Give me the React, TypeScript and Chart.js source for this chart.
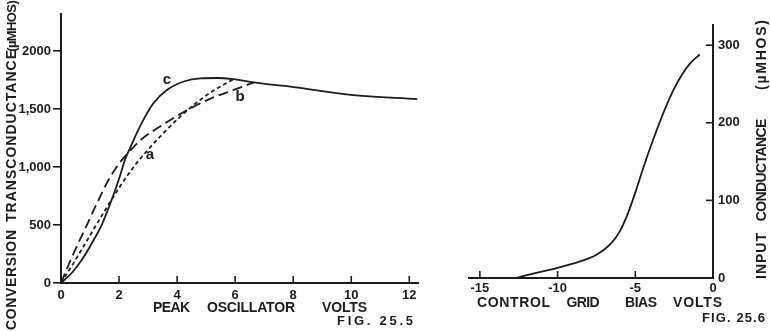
import React, { useEffect, useRef } from 'react';
import { Chart, registerables } from 'chart.js';

Chart.register(...registerables);

// ---------- Fig. 25.5 : conversion transconductance vs peak oscillator volts ----------
const leftXTicks = [0, 2, 4, 6, 8, 10, 12];
const leftXTickLabels = ['0', '2', '4', '6', '8', '10', '12'];
const leftYTicks = [0, 500, 1000, 1500, 2000];
const leftYTickLabels = ['0', '500', '1,000', '1,500', '2000'];

// curve c (solid)
const curveCX = [0, 0.4, 0.77, 1.1, 1.4, 1.75, 2.04, 2.2, 2.39, 2.73, 3.19, 3.66, 4.23, 4.8, 5.38, 5.95, 6.64, 8.02, 9.98, 12.28];
const curveCY = [0, 95, 220, 360, 500, 720, 930, 1060, 1170, 1355, 1552, 1666, 1738, 1765, 1768, 1758, 1730, 1690, 1623, 1586];

// curve b (long dashes)
const curveBX = [0, 0.37, 0.89, 1.3, 1.64, 2.0, 2.4, 2.73, 3.54, 4.34, 5.15, 5.95, 6.64];
const curveBY = [0, 220, 500, 720, 890, 1030, 1145, 1230, 1370, 1490, 1590, 1665, 1730];

// curve a (short dashes)
const curveAX = [0, 0.5, 1.0, 1.5, 2.0, 2.5, 3.0, 3.5, 4.11, 4.8, 5.49, 5.94];
const curveAY = [0, 200, 410, 620, 820, 1000, 1150, 1285, 1435, 1580, 1695, 1755];

// ---------- Fig. 25.6 : input conductance vs control grid bias ----------
const rightXTicks = [-15, -10, -5, 0];
const rightXTickLabels = ['-15', '-10', '-5', '0'];
const rightYTicks = [0, 100, 200, 300];
const rightYTickLabels = ['0', '100', '200', '300'];

const biasX = [-12.7, -11.5, -10, -8.6, -7.5, -6.5, -6, -5.5, -5, -4.5, -4, -3.5, -3, -2.5, -2, -1.5, -0.85];
const conductanceY = [0, 6, 13, 21, 30, 46, 60, 82, 110, 141, 170, 197, 222, 244, 262, 276, 288];

const FONT = '"Liberation Sans", Arial, sans-serif';
const INK = '#1c1c1c';

type TextItem = { text: string; x: number; y: number; w?: number; rot?: boolean; size?: number };

const leftTexts: TextItem[] = [
  { text: '(µMHOS)', x: 12, y: 26, w: 40, rot: true, size: 13 },
  { text: 'TRANSCONDUCTANCE', x: 12, y: 136, w: 172, rot: true, size: 14 },
  { text: 'CONVERSION', x: 12, y: 280, w: 100, rot: true, size: 14 },
  { text: 'PEAK', x: 171.5, y: 308, w: 37, size: 14 },
  { text: 'OSCILLATOR', x: 251, y: 308, w: 88, size: 14 },
  { text: 'VOLTS', x: 344.5, y: 308, w: 45, size: 14 },
  { text: 'FIG. 25.5', x: 375, y: 321, w: 76, size: 13 },
  { text: 'c', x: 167, y: 80, size: 15 },
  { text: 'b', x: 240, y: 97, size: 15 },
  { text: 'a', x: 150, y: 155, size: 15 },
];

const rightTexts: TextItem[] = [
  { text: 'CONTROL', x: 513.5, y: 303, w: 73, size: 14 },
  { text: 'GRID', x: 583, y: 303, w: 32, size: 14 },
  { text: 'BIAS', x: 641, y: 303, w: 32, size: 14 },
  { text: 'VOLTS', x: 697.5, y: 303, w: 49, size: 14 },
  { text: 'FIG. 25.6', x: 733.5, y: 318, w: 63, size: 13 },
  { text: 'INPUT', x: 762, y: 256, w: 46, rot: true, size: 14 },
  { text: 'CONDUCTANCE', x: 762, y: 170, w: 100, rot: true, size: 14 },
  { text: '(µMHOS)', x: 762, y: 55, w: 70, rot: true, size: 14 },
];

function pts(xs: number[], ys: number[]) {
  return xs.map((x, i) => ({ x, y: ys[i] }));
}

function textPlugin(items: TextItem[], offsetX: number) {
  return {
    id: 'pageTexts',
    afterDraw(chart: any) {
      const ctx: CanvasRenderingContext2D = chart.ctx;
      ctx.save();
      ctx.fillStyle = INK;
      ctx.textBaseline = 'middle';
      ctx.textAlign = 'left';
      for (const it of items) {
        const size = it.size ?? 13;
        ctx.font = `bold ${size}px ${FONT}`;
        (ctx as any).letterSpacing = '0px';
        const m = ctx.measureText(it.text).width;
        let ls = 0;
        if (it.w && it.text.length > 1) {
          ls = Math.max(-0.6, Math.min(3, (it.w - m) / (it.text.length - 1)));
        }
        (ctx as any).letterSpacing = `${ls}px`;
        const total = m + ls * (it.text.length - 1);
        ctx.save();
        ctx.translate(it.x - offsetX, it.y);
        if (it.rot) ctx.rotate(-Math.PI / 2);
        ctx.fillText(it.text, -total / 2, 0);
        ctx.restore();
      }
      ctx.restore();
    },
  };
}

function innerTicksPlugin(scaleIds: string[], length: number) {
  return {
    id: 'innerTicks',
    afterDraw(chart: any) {
      const ctx: CanvasRenderingContext2D = chart.ctx;
      ctx.save();
      ctx.strokeStyle = INK;
      ctx.lineWidth = 1.6;
      for (const id of scaleIds) {
        const s = chart.scales[id];
        for (const t of s.ticks) {
          if (t.value === 0) continue;
          const p = s.getPixelForValue(t.value);
          ctx.beginPath();
          if (s.isHorizontal()) {
            ctx.moveTo(p, s.top);
            ctx.lineTo(p, s.top - length);
          } else {
            ctx.moveTo(s.left, p);
            ctx.lineTo(s.left - length, p);
          }
          ctx.stroke();
        }
      }
      ctx.restore();
    },
  };
}

const tickFont = { family: FONT, size: 13, weight: 'bold' as const };

function zeroPad(s: any) {
  s.paddingTop = 0;
  s.paddingBottom = 0;
  s.paddingLeft = 0;
  s.paddingRight = 0;
}

function lineDs(data: { x: number; y: number }[], dash: number[]) {
  return {
    data,
    borderColor: INK,
    borderWidth: 1.8,
    borderDash: dash,
    pointRadius: 0,
    fill: false,
    tension: 0.4,
    cubicInterpolationMode: 'monotone' as const,
  };
}

export default function App() {
  const leftRef = useRef<HTMLCanvasElement>(null);
  const rightRef = useRef<HTMLCanvasElement>(null);

  useEffect(() => {
    const c1 = new Chart(leftRef.current!, {
      type: 'line',
      data: {
        datasets: [
          lineDs(pts(curveCX, curveCY), []),
          lineDs(pts(curveBX, curveBY), [10, 5]),
          lineDs(pts(curveAX, curveAY), [4, 3]),
        ],
      },
      options: {
        responsive: false,
        animation: false,
        events: [],
        layout: { padding: { left: 0, right: 22, top: 14, bottom: 0 } },
        plugins: { legend: { display: false }, tooltip: { enabled: false } },
        scales: {
          x: {
            type: 'linear',
            min: 0,
            max: 12.3,
            afterBuildTicks: (s: any) => {
              s.ticks = leftXTicks.map((v) => ({ value: v }));
            },
            afterFit: (s: any) => {
              s.height = 48;
              zeroPad(s);
            },
            grid: { display: false, drawTicks: false },
            border: { display: true, color: INK, width: 2 },
            ticks: {
              color: INK,
              font: tickFont,
              padding: 5,
              maxRotation: 0,
              autoSkip: false,
              callback: (v: any) => leftXTickLabels[leftXTicks.indexOf(Number(v))] ?? '',
            },
          },
          y: {
            type: 'linear',
            min: 0,
            max: 2320,
            afterBuildTicks: (s: any) => {
              s.ticks = leftYTicks.map((v) => ({ value: v }));
            },
            afterFit: (s: any) => {
              s.width = 61;
              zeroPad(s);
            },
            grid: { display: true, drawOnChartArea: false, drawTicks: true, tickLength: 8, color: INK, lineWidth: 1.6 },
            border: { display: true, color: INK, width: 2 },
            ticks: {
              color: INK,
              font: tickFont,
              padding: 2,
              autoSkip: false,
              callback: (v: any) => leftYTickLabels[leftYTicks.indexOf(Number(v))] ?? '',
            },
          },
        },
      },
      plugins: [innerTicksPlugin(['x'], 7), textPlugin(leftTexts, 0)],
    } as any);

    const c2 = new Chart(rightRef.current!, {
      type: 'line',
      data: {
        datasets: [lineDs(pts(biasX, conductanceY), [])],
      },
      options: {
        responsive: false,
        animation: false,
        events: [],
        layout: { padding: { left: 29, right: 0, top: 25, bottom: 0 } },
        plugins: { legend: { display: false }, tooltip: { enabled: false } },
        scales: {
          x: {
            type: 'linear',
            min: -15.7,
            max: 0,
            afterBuildTicks: (s: any) => {
              s.ticks = rightXTicks.map((v) => ({ value: v }));
            },
            afterFit: (s: any) => {
              s.height = 53;
              zeroPad(s);
            },
            grid: { display: false, drawTicks: false },
            border: { display: true, color: INK, width: 2 },
            ticks: {
              color: INK,
              font: tickFont,
              padding: 3,
              maxRotation: 0,
              autoSkip: false,
              callback: (v: any) => rightXTickLabels[rightXTicks.indexOf(Number(v))] ?? '',
            },
          },
          y: {
            type: 'linear',
            position: 'right',
            min: 0,
            max: 326,
            afterBuildTicks: (s: any) => {
              s.ticks = rightYTicks.map((v) => ({ value: v }));
            },
            afterFit: (s: any) => {
              s.width = 57;
              zeroPad(s);
            },
            grid: { display: false, drawTicks: false },
            border: { display: true, color: INK, width: 2 },
            ticks: {
              color: INK,
              font: tickFont,
              padding: 5,
              autoSkip: false,
              callback: (v: any) => rightYTickLabels[rightYTicks.indexOf(Number(v))] ?? '',
            },
          },
        },
      },
      plugins: [innerTicksPlugin(['x', 'y'], 7), textPlugin(rightTexts, 440)],
    } as any);

    return () => {
      c1.destroy();
      c2.destroy();
    };
  }, []);

  return (
    <div
      style={{
        position: 'fixed',
        left: 0,
        top: 0,
        width: 770,
        height: 331,
        background: '#ffffff',
        overflow: 'hidden',
      }}
    >
      <canvas
        ref={leftRef}
        width={440}
        height={331}
        style={{ position: 'absolute', left: 0, top: 0, width: 440, height: 331 }}
      />
      <canvas
        ref={rightRef}
        width={330}
        height={331}
        style={{ position: 'absolute', left: 440, top: 0, width: 330, height: 331 }}
      />
    </div>
  );
}
